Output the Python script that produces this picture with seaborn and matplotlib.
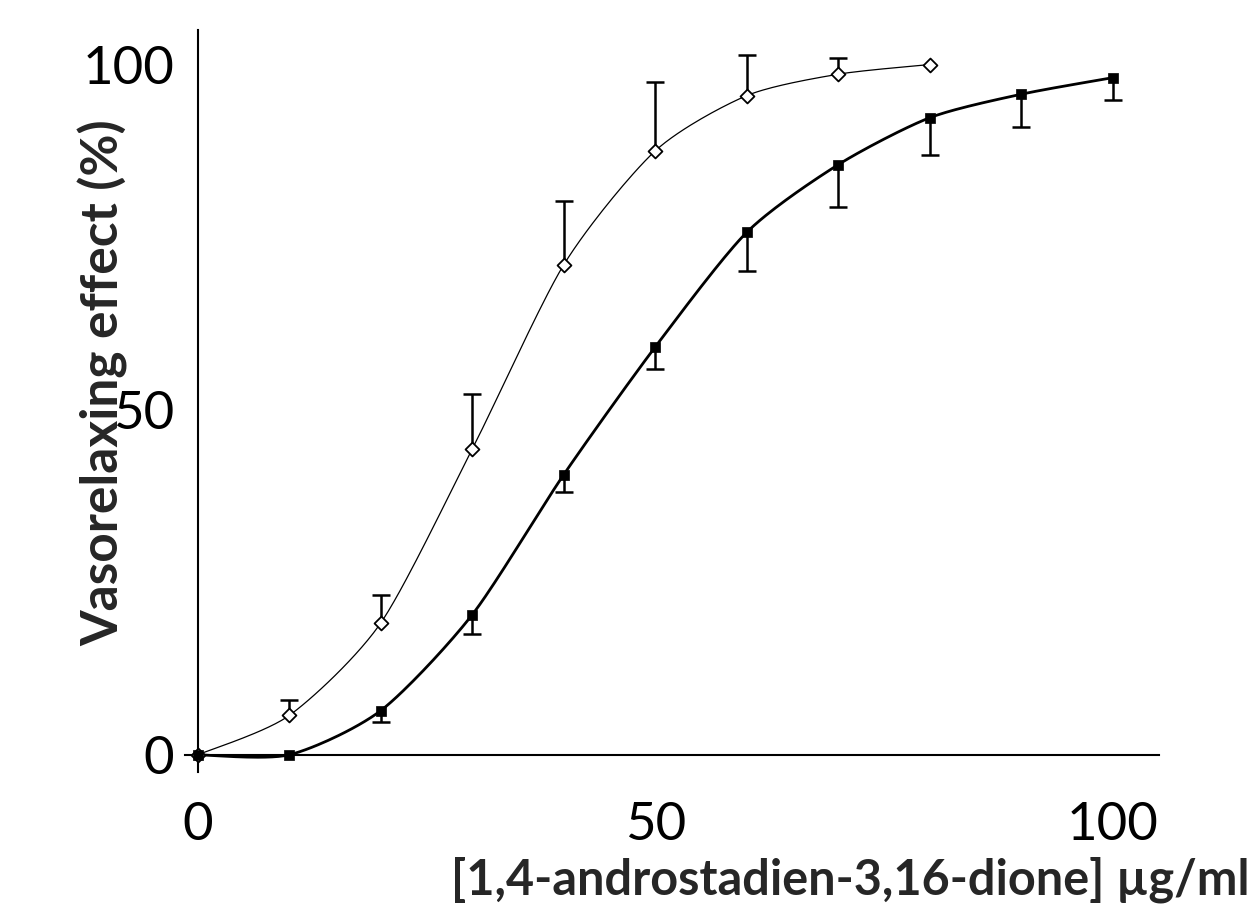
import numpy as np
import pandas as pd
import matplotlib
matplotlib.use('Agg')
import matplotlib.pyplot as plt
import seaborn as sns

# concentrations (ug/ml)
conc_open = [0, 10, 20, 30, 40, 50, 60, 70, 80]
effect_open = [0, 5.7, 19.1, 44.3, 71.0, 87.5, 95.5, 98.6, 100]
err_open = [0, 2.2, 4.1, 7.9, 9.3, 9.9, 5.9, 2.3, 0]

conc_filled = [0, 10, 20, 30, 40, 50, 60, 70, 80, 90, 100]
effect_filled = [0, 0, 6.4, 20.3, 40.6, 59.1, 75.7, 85.5, 92.3, 95.7, 98.1]
err_filled = [0, 0, 1.6, 2.8, 2.6, 3.2, 5.6, 6.2, 5.4, 4.7, 3.2]

x_ticks = [0, 50, 100]
y_ticks = [0, 50, 100]


def smooth(xs, ys, n=30, k=0.75):
    '''hermite smoothing through the points, like a spreadsheet "smoothed line"'''
    p = np.column_stack([xs, ys]).astype(float)
    q = np.vstack([p[0], p, p[-1]])
    m = k * (q[2:] - q[:-2]) / 2
    out = []
    for i in range(len(p) - 1):
        t = np.linspace(0, 1, n, endpoint=(i == len(p) - 2))[:, None]
        h00 = 2 * t ** 3 - 3 * t ** 2 + 1
        h10 = t ** 3 - 2 * t ** 2 + t
        h01 = -2 * t ** 3 + 3 * t ** 2
        h11 = t ** 3 - t ** 2
        out.append(h00 * p[i] + h10 * m[i] + h01 * p[i + 1] + h11 * m[i + 1])
    out = np.vstack(out)
    return pd.DataFrame({'x': out[:, 0], 'y': out[:, 1]})


sns.set_style('white')
plt.rcParams['font.family'] = ['Lato', 'DejaVu Sans']

fig = plt.figure(figsize=(12.6, 9.1), dpi=100)
ax = fig.add_axes([0.1468, 0.1516, 0.7734, 0.8154])

curve_open = smooth(conc_open, effect_open)
curve_filled = smooth(conc_filled, effect_filled)
sns.lineplot(data=curve_open, x='x', y='y', sort=False, color='black', lw=0.9, ax=ax)
sns.lineplot(data=curve_filled, x='x', y='y', sort=False, color='black', lw=2.0, ax=ax)

# error bars: open series upward, filled series downward (one cap only)
eo = np.array(err_open)
ef = np.array(err_filled)
yo = np.array(effect_open)
yf = np.array(effect_filled)
mo = eo > 0
mf = ef > 0
xo = np.array(conc_open)[mo]
xf = np.array(conc_filled)[mf]
ax.vlines(xo, yo[mo], yo[mo] + eo[mo], color='black', lw=1.8, zorder=3)
ax.plot(xo, yo[mo] + eo[mo], ls='none', marker='_', ms=13, mew=1.8, color='black', zorder=3)
ax.vlines(xf, yf[mf] - ef[mf], yf[mf], color='black', lw=1.8, zorder=3)
ax.plot(xf, yf[mf] - ef[mf], ls='none', marker='_', ms=13, mew=1.8, color='black', zorder=3)

sns.scatterplot(x=conc_open, y=effect_open, marker='D', s=50, color='white',
                edgecolor='black', linewidth=1.3, ax=ax, zorder=4)
sns.scatterplot(x=conc_filled, y=effect_filled, marker='s', s=60, color='black',
                edgecolor='black', linewidth=0.5, ax=ax, zorder=4)

ax.set_xlim(-1.4, 105.1)
ax.set_ylim(-2.5, 105)
ax.spines['left'].set_position(('data', 0))
ax.spines['bottom'].set_position(('data', 0))
ax.spines['top'].set_visible(False)
ax.spines['right'].set_visible(False)
for s in ['left', 'bottom']:
    ax.spines[s].set_linewidth(1.5)
    ax.spines[s].set_color('black')

ax.set_xticks(x_ticks)
ax.set_yticks(y_ticks)
ax.tick_params(axis='both', direction='out', length=12, width=1.5, color='black',
               labelsize=38, labelcolor='black')
ax.tick_params(axis='x', pad=22)
ax.tick_params(axis='y', pad=5)

ax.set_xlabel('')
ax.set_ylabel('')
fig.text(0.992, 0.033, '[1,4-androstadien-3,16-dione] µg/ml', ha='right', va='center',
         fontsize=35, fontweight='bold')
fig.text(0.082, 0.579, 'Vasorelaxing effect (%)', ha='center', va='center',
         rotation=90, fontsize=37, fontweight='bold')

plt.savefig('out.png', dpi=100)
